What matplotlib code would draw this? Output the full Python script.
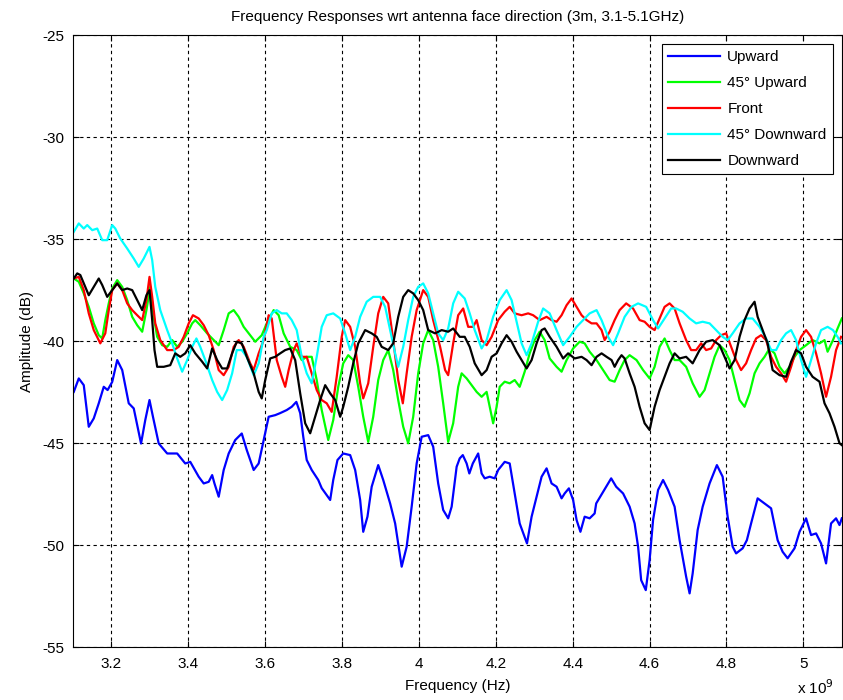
import numpy as np
import matplotlib
matplotlib.use('Agg')
import matplotlib.pyplot as plt
from matplotlib.ticker import FuncFormatter

# traced curves: frequency in GHz, amplitude in dB
up_f = [3.102, 3.115, 3.128, 3.141, 3.154, 3.167, 3.180, 3.190, 3.202, 3.215, 3.228, 3.245, 3.258, 3.277, 3.288,
        3.299, 3.308, 3.323, 3.345, 3.371, 3.392, 3.405, 3.427, 3.440, 3.453, 3.462, 3.468, 3.479, 3.492, 3.505,
        3.522, 3.539, 3.552, 3.570, 3.583, 3.596, 3.609, 3.626, 3.639, 3.656, 3.669, 3.681, 3.691, 3.699, 3.708,
        3.721, 3.738, 3.747, 3.769, 3.777, 3.788, 3.803, 3.821, 3.834, 3.847, 3.855, 3.866, 3.877, 3.894, 3.907,
        3.925, 3.938, 3.955, 3.968, 3.981, 3.994, 4.007, 4.024, 4.037, 4.050, 4.063, 4.076, 4.085, 4.098, 4.106,
        4.114, 4.124, 4.131, 4.140, 4.154, 4.163, 4.171, 4.184, 4.197, 4.206, 4.223, 4.236, 4.249, 4.262, 4.281,
        4.293, 4.306, 4.319, 4.332, 4.345, 4.358, 4.371, 4.379, 4.390, 4.401, 4.410, 4.420, 4.431, 4.444, 4.457,
        4.461, 4.479, 4.500, 4.513, 4.531, 4.548, 4.561, 4.570, 4.578, 4.590, 4.600, 4.609, 4.622, 4.635, 4.648,
        4.665, 4.678, 4.695, 4.704, 4.712, 4.725, 4.738, 4.756, 4.775, 4.790, 4.803, 4.816, 4.825, 4.842, 4.853,
        4.864, 4.881, 4.899, 4.916, 4.933, 4.946, 4.959, 4.977, 4.990, 5.007, 5.020, 5.033, 5.046, 5.059, 5.072,
        5.085, 5.094, 5.100]
up_db = [-42.49, -41.83, -42.16, -44.20, -43.79, -43.05, -42.24, -42.40, -42.00, -40.93, -41.42, -43.05, -43.30,
         -45.02, -43.87, -42.89, -43.71, -45.02, -45.51, -45.51, -46.00, -45.92, -46.65, -46.98, -46.90, -46.57,
         -46.98, -47.63, -46.32, -45.51, -44.85, -44.53, -45.34, -46.32, -46.00, -44.85, -43.71, -43.63, -43.53,
         -43.38, -43.22, -42.98, -43.53, -44.69, -45.83, -46.32, -46.81, -47.21, -47.79, -46.81, -45.83, -45.51,
         -45.59, -46.32, -47.79, -49.35, -48.61, -47.14, -46.08, -46.81, -47.96, -48.94, -51.06, -50.08, -48.12,
         -46.00, -44.69, -44.61, -45.18, -46.98, -48.28, -48.69, -48.12, -46.16, -45.75, -45.59, -46.00, -46.49,
         -46.00, -45.51, -46.49, -46.73, -46.65, -46.73, -46.32, -45.92, -46.00, -47.47, -48.94, -49.92, -48.61,
         -47.63, -46.65, -46.24, -46.98, -47.14, -47.71, -47.47, -47.22, -47.79, -48.77, -49.35, -48.61, -48.69,
         -48.45, -47.96, -47.39, -46.73, -47.14, -47.47, -48.12, -48.94, -50.08, -51.72, -52.21, -50.74, -48.77,
         -47.30, -46.81, -47.30, -48.12, -49.76, -51.55, -52.37, -51.39, -49.26, -48.12, -46.98, -46.08, -46.65,
         -48.61, -50.08, -50.41, -50.16, -49.76, -48.94, -47.71, -47.96, -48.20, -49.76, -50.33, -50.65, -50.16,
         -49.35, -48.69, -49.51, -49.43, -49.92, -50.90, -48.94, -48.69, -49.02, -48.69]

up45_f = [3.102, 3.115, 3.128, 3.141, 3.154, 3.167, 3.176, 3.184, 3.193, 3.202, 3.215, 3.228, 3.241, 3.254, 3.267,
          3.280, 3.291, 3.301, 3.310, 3.319, 3.332, 3.345, 3.358, 3.371, 3.384, 3.397, 3.410, 3.418, 3.431, 3.449,
          3.466, 3.479, 3.492, 3.505, 3.518, 3.531, 3.544, 3.561, 3.574, 3.591, 3.604, 3.622, 3.635, 3.648, 3.665,
          3.682, 3.695, 3.708, 3.721, 3.734, 3.747, 3.764, 3.777, 3.790, 3.803, 3.816, 3.829, 3.842, 3.855, 3.868,
          3.881, 3.894, 3.907, 3.920, 3.933, 3.946, 3.959, 3.972, 3.985, 3.998, 4.011, 4.024, 4.037, 4.050, 4.063,
          4.076, 4.089, 4.102, 4.111, 4.124, 4.137, 4.150, 4.163, 4.176, 4.184, 4.193, 4.202, 4.210, 4.223, 4.236,
          4.249, 4.262, 4.275, 4.288, 4.301, 4.314, 4.327, 4.340, 4.358, 4.371, 4.384, 4.401, 4.418, 4.431, 4.444,
          4.462, 4.479, 4.496, 4.509, 4.522, 4.535, 4.548, 4.566, 4.583, 4.600, 4.613, 4.626, 4.639, 4.652, 4.665,
          4.678, 4.695, 4.712, 4.730, 4.743, 4.756, 4.769, 4.782, 4.795, 4.808, 4.821, 4.834, 4.847, 4.860, 4.873,
          4.886, 4.899, 4.912, 4.925, 4.938, 4.951, 4.964, 4.977, 4.990, 5.007, 5.024, 5.042, 5.055, 5.063, 5.077,
          5.089, 5.100]
up45_db = [-36.93, -37.09, -37.66, -38.32, -39.13, -39.71, -39.87, -38.97, -38.15, -37.42, -37.01, -37.34, -37.99,
           -38.81, -39.22, -39.54, -38.48, -37.34, -38.81, -39.79, -40.20, -40.28, -39.95, -40.28, -40.03, -39.62,
           -39.13, -38.97, -39.22, -39.62, -39.95, -40.20, -39.46, -38.64, -38.48, -38.81, -39.30, -39.71, -40.03,
           -39.71, -39.13, -38.48, -38.73, -39.62, -40.28, -40.44, -40.93, -40.77, -40.77, -41.91, -43.38, -44.85,
           -43.87, -42.24, -41.09, -40.69, -40.93, -42.24, -43.71, -44.94, -43.71, -41.91, -40.93, -40.44, -41.42,
           -42.89, -44.20, -45.01, -43.71, -41.58, -40.11, -39.46, -39.95, -41.26, -43.05, -44.94, -44.03, -42.24,
           -41.58, -41.83, -42.16, -42.49, -42.73, -42.49, -43.22, -44.03, -43.22, -42.24, -41.99, -42.07, -41.91,
           -42.24, -41.50, -40.60, -39.95, -39.54, -39.95, -40.85, -41.26, -41.50, -40.93, -40.36, -40.03, -40.11,
           -40.52, -40.93, -41.42, -41.91, -41.99, -41.42, -40.93, -40.69, -40.93, -41.42, -41.83, -41.26, -40.28,
           -39.87, -40.44, -40.93, -40.93, -41.26, -42.07, -42.73, -42.40, -41.58, -40.77, -40.20, -40.44, -40.93,
           -41.91, -42.89, -43.22, -42.56, -41.58, -41.09, -40.77, -40.36, -40.60, -41.26, -41.58, -41.26, -40.77,
           -40.44, -40.20, -39.95, -40.11, -39.95, -40.52, -39.95, -39.38, -38.89]

front_f = [3.102, 3.115, 3.128, 3.141, 3.154, 3.171, 3.184, 3.193, 3.202, 3.215, 3.228, 3.241, 3.254, 3.267, 3.280,
           3.291, 3.299, 3.306, 3.314, 3.327, 3.345, 3.362, 3.375, 3.388, 3.401, 3.412, 3.427, 3.440, 3.453, 3.466,
           3.479, 3.492, 3.505, 3.518, 3.531, 3.544, 3.561, 3.570, 3.583, 3.596, 3.609, 3.617, 3.630, 3.643, 3.652,
           3.661, 3.674, 3.682, 3.695, 3.708, 3.721, 3.734, 3.747, 3.760, 3.773, 3.786, 3.799, 3.808, 3.821, 3.834,
           3.847, 3.855, 3.868, 3.881, 3.894, 3.907, 3.920, 3.933, 3.946, 3.958, 3.968, 3.981, 3.994, 4.011, 4.024,
           4.037, 4.055, 4.068, 4.076, 4.089, 4.102, 4.115, 4.128, 4.141, 4.150, 4.163, 4.176, 4.189, 4.206, 4.223,
           4.236, 4.249, 4.267, 4.284, 4.297, 4.314, 4.332, 4.345, 4.358, 4.371, 4.384, 4.397, 4.410, 4.423, 4.436,
           4.449, 4.462, 4.475, 4.483, 4.496, 4.509, 4.522, 4.539, 4.557, 4.574, 4.587, 4.600, 4.613, 4.626, 4.639,
           4.652, 4.665, 4.678, 4.695, 4.708, 4.721, 4.734, 4.747, 4.760, 4.773, 4.786, 4.799, 4.812, 4.825, 4.838,
           4.851, 4.864, 4.877, 4.890, 4.903, 4.916, 4.929, 4.942, 4.955, 4.968, 4.981, 4.994, 5.007, 5.020, 5.033,
           5.046, 5.059, 5.072, 5.085, 5.098]
front_db = [-36.93, -36.85, -37.50, -38.64, -39.46, -40.11, -39.62, -38.48, -37.50, -37.17, -37.50, -38.15, -38.48,
            -38.73, -38.97, -37.99, -36.85, -37.83, -39.13, -39.95, -40.44, -40.44, -40.28, -39.79, -39.13, -38.73,
            -38.89, -39.22, -39.71, -40.44, -41.42, -41.67, -41.26, -40.28, -39.95, -40.28, -41.09, -41.42, -40.60,
            -39.95, -38.73, -38.89, -40.93, -41.75, -42.24, -41.42, -40.44, -40.11, -40.77, -40.77, -41.58, -42.40,
            -42.89, -43.05, -43.47, -41.75, -39.79, -38.97, -39.30, -40.28, -42.07, -42.81, -42.07, -40.28, -38.64,
            -37.83, -38.15, -39.95, -41.91, -43.05, -41.58, -39.79, -38.48, -37.50, -37.83, -38.97, -40.28, -41.42,
            -41.67, -40.11, -38.73, -38.40, -39.30, -39.30, -38.97, -39.95, -40.20, -39.79, -38.97, -38.56, -38.32,
            -38.64, -38.73, -38.64, -38.73, -38.97, -38.81, -38.97, -39.05, -38.73, -38.24, -37.91, -38.32, -38.73,
            -38.97, -39.13, -39.13, -39.46, -39.95, -39.54, -38.97, -38.48, -38.15, -38.40, -38.97, -39.05, -39.30,
            -39.46, -38.89, -38.32, -38.15, -38.40, -39.13, -39.95, -40.44, -40.44, -40.11, -40.44, -40.36, -39.95,
            -39.71, -39.62, -40.28, -40.93, -41.42, -41.09, -40.44, -39.87, -39.71, -39.95, -40.77, -41.26, -41.58,
            -41.99, -41.26, -40.44, -39.79, -39.46, -39.79, -40.60, -41.58, -42.73, -41.75, -40.44, -39.79]

down45_f = [3.102, 3.115, 3.128, 3.137, 3.150, 3.163, 3.176, 3.189, 3.202, 3.210, 3.223, 3.241, 3.258, 3.271, 3.284,
            3.299, 3.306, 3.314, 3.327, 3.345, 3.358, 3.371, 3.384, 3.397, 3.410, 3.421, 3.431, 3.444, 3.462, 3.475,
            3.488, 3.501, 3.514, 3.526, 3.539, 3.552, 3.570, 3.583, 3.596, 3.604, 3.617, 3.630, 3.643, 3.656, 3.669,
            3.682, 3.695, 3.708, 3.721, 3.734, 3.747, 3.760, 3.777, 3.795, 3.808, 3.821, 3.834, 3.847, 3.864, 3.881,
            3.899, 3.912, 3.925, 3.938, 3.946, 3.959, 3.972, 3.985, 3.998, 4.011, 4.024, 4.037, 4.050, 4.063, 4.076,
            4.089, 4.102, 4.119, 4.132, 4.145, 4.163, 4.176, 4.193, 4.210, 4.228, 4.241, 4.254, 4.267, 4.280, 4.293,
            4.310, 4.323, 4.340, 4.358, 4.375, 4.392, 4.410, 4.427, 4.444, 4.462, 4.475, 4.492, 4.505, 4.518, 4.535,
            4.553, 4.570, 4.591, 4.609, 4.622, 4.639, 4.656, 4.669, 4.686, 4.704, 4.721, 4.738, 4.756, 4.773, 4.790,
            4.803, 4.816, 4.834, 4.851, 4.868, 4.886, 4.903, 4.916, 4.929, 4.942, 4.955, 4.968, 4.981, 4.994, 5.007,
            5.020, 5.033, 5.046, 5.063, 5.077, 5.089, 5.098]
down45_db = [-34.64, -34.23, -34.48, -34.31, -34.56, -34.48, -35.05, -35.05, -34.31, -34.48, -34.97, -35.46, -35.95,
             -36.36, -35.95, -35.38, -36.03, -37.34, -38.48, -39.46, -40.11, -40.85, -41.50, -40.93, -40.28, -39.87,
             -40.28, -40.93, -41.91, -42.49, -42.89, -42.40, -41.58, -40.44, -40.44, -40.77, -41.67, -41.09, -39.79,
             -39.46, -38.64, -38.48, -38.64, -38.64, -38.97, -39.46, -40.77, -41.58, -42.07, -40.77, -39.30, -38.73,
             -38.64, -38.89, -39.62, -40.44, -39.79, -38.81, -38.07, -37.83, -37.83, -38.32, -39.46, -40.60, -41.26,
             -40.28, -38.97, -37.83, -37.34, -37.17, -37.66, -38.64, -39.62, -39.95, -39.38, -38.15, -37.58, -37.91,
             -38.64, -39.46, -40.36, -39.95, -38.81, -37.99, -37.50, -37.99, -39.05, -40.11, -40.69, -40.11, -39.05,
             -38.40, -38.64, -39.46, -40.20, -39.79, -39.30, -38.97, -38.64, -38.48, -38.97, -39.79, -40.20, -39.62,
             -38.81, -38.32, -38.15, -38.32, -38.97, -39.38, -38.89, -38.40, -38.40, -38.56, -38.89, -39.13, -39.05,
             -39.13, -39.46, -39.79, -39.95, -39.62, -39.13, -38.89, -38.89, -39.30, -39.87, -40.44, -40.44, -39.95,
             -39.62, -39.46, -39.95, -40.93, -41.75, -40.93, -40.11, -39.46, -39.30, -39.46, -39.79, -40.11]

down_f = [3.102, 3.111, 3.119, 3.132, 3.141, 3.154, 3.167, 3.176, 3.189, 3.202, 3.215, 3.228, 3.241, 3.254, 3.267,
          3.280, 3.291, 3.299, 3.306, 3.312, 3.319, 3.336, 3.353, 3.366, 3.379, 3.392, 3.405, 3.418, 3.436, 3.449,
          3.462, 3.475, 3.488, 3.501, 3.514, 3.526, 3.539, 3.552, 3.570, 3.583, 3.591, 3.600, 3.613, 3.626, 3.639,
          3.652, 3.665, 3.678, 3.691, 3.704, 3.717, 3.730, 3.743, 3.756, 3.769, 3.782, 3.795, 3.803, 3.816, 3.829,
          3.842, 3.860, 3.877, 3.890, 3.903, 3.920, 3.933, 3.946, 3.959, 3.972, 3.985, 3.998, 4.011, 4.024, 4.042,
          4.059, 4.076, 4.089, 4.106, 4.119, 4.132, 4.145, 4.163, 4.176, 4.189, 4.202, 4.215, 4.228, 4.241, 4.254,
          4.267, 4.280, 4.293, 4.306, 4.319, 4.327, 4.340, 4.358, 4.375, 4.388, 4.405, 4.423, 4.436, 4.449, 4.462,
          4.475, 4.488, 4.501, 4.509, 4.518, 4.527, 4.535, 4.548, 4.561, 4.574, 4.587, 4.600, 4.613, 4.626, 4.639,
          4.652, 4.665, 4.678, 4.695, 4.712, 4.730, 4.747, 4.764, 4.782, 4.795, 4.808, 4.821, 4.834, 4.847, 4.860,
          4.873, 4.881, 4.894, 4.907, 4.920, 4.938, 4.955, 4.968, 4.981, 4.994, 5.007, 5.024, 5.042, 5.055, 5.068,
          5.081, 5.094, 5.100]
down_db = [-36.93, -36.68, -36.76, -37.34, -37.75, -37.34, -36.93, -37.25, -37.83, -37.50, -37.17, -37.50, -37.42,
           -37.50, -37.99, -38.48, -37.75, -37.50, -38.97, -40.44, -41.26, -41.26, -41.18, -40.60, -40.77, -40.60,
           -40.20, -40.60, -41.01, -41.34, -40.36, -40.93, -41.34, -41.34, -40.60, -40.03, -40.11, -40.77, -41.58,
           -42.49, -42.81, -41.91, -40.85, -40.77, -40.60, -40.44, -40.36, -40.93, -42.56, -44.03, -44.52, -43.71,
           -42.89, -42.16, -42.56, -42.89, -43.71, -43.22, -42.24, -41.09, -40.11, -39.46, -39.62, -39.79, -40.28,
           -40.44, -40.11, -38.81, -37.83, -37.50, -37.66, -37.99, -38.48, -39.46, -39.62, -39.46, -39.54, -39.38,
           -39.79, -39.79, -40.28, -41.09, -41.67, -41.42, -40.77, -40.60, -40.11, -39.71, -40.03, -40.52, -40.93,
           -41.34, -40.93, -40.11, -39.46, -39.38, -39.79, -40.28, -40.85, -40.60, -40.85, -40.77, -40.93, -41.18,
           -40.77, -40.60, -40.77, -40.93, -41.26, -40.93, -40.69, -40.85, -41.58, -42.24, -43.22, -44.03, -44.36,
           -43.22, -42.40, -41.75, -41.09, -40.60, -40.85, -40.77, -41.09, -40.44, -40.03, -39.95, -40.20, -40.77,
           -41.34, -40.93, -39.79, -38.97, -38.40, -38.07, -38.81, -39.46, -40.11, -41.42, -41.67, -41.75, -41.01,
           -40.44, -40.60, -41.26, -41.75, -41.99, -43.05, -43.54, -44.20, -45.01, -45.10]

series = [
    ('Upward', up_f, up_db, (0, 0, 1)),
    ('45° Upward', up45_f, up45_db, (0, 1, 0)),
    ('Front', front_f, front_db, (1, 0, 0)),
    ('45° Downward', down45_f, down45_db, (0, 1, 1)),
    ('Downward', down_f, down_db, (0, 0, 0)),
]

plt.rcParams['font.family'] = ['Liberation Sans', 'DejaVu Sans']
plt.rcParams['font.size'] = 11
plt.rcParams['axes.unicode_minus'] = False

fig = plt.figure(figsize=(8.43, 7.0), dpi=100)
ax = fig.add_axes([0.0866, 0.0757, 0.912, 0.874])

for name, f, db, col in series:
    ax.plot(np.array(f) * 1e9, db, color=col, lw=1.6, label=name)

ax.set_xlim(3.1e9, 5.1e9)
ax.set_ylim(-55, -25)
ax.set_xticks(np.arange(3.2, 5.01, 0.2) * 1e9)
ax.set_yticks(np.arange(-55, -24, 5))
ax.xaxis.set_major_formatter(FuncFormatter(lambda v, p: '{:g}'.format(round(v / 1e9, 1))))
ax.tick_params(direction='in', top=True, right=True, length=4, labelsize=11)
ax.tick_params(axis='x', pad=7)
ax.tick_params(axis='y', pad=6)
ax.grid(True, color='black', linestyle=(0, (3, 3)), linewidth=0.8)
for s in ax.spines.values():
    s.set_linewidth(0.8)

ax.set_title('Frequency Responses wrt antenna face direction (3m, 3.1-5.1GHz)', fontsize=11, pad=10)
ax.set_xlabel('Frequency (Hz)', fontsize=11, labelpad=6)
ax.set_ylabel('Amplitude (dB)', fontsize=11, labelpad=6)
fig.text(0.946, 0.004, r'x 10$^9$', fontsize=11, ha='left', va='bottom')

leg = ax.legend(loc='upper right', fancybox=False, framealpha=1, edgecolor='black',
                borderaxespad=0.6, handlelength=3.4, handletextpad=0.5, labelspacing=0.78, fontsize=11)
leg.get_frame().set_linewidth(0.8)

plt.savefig('out.png', dpi=100)
